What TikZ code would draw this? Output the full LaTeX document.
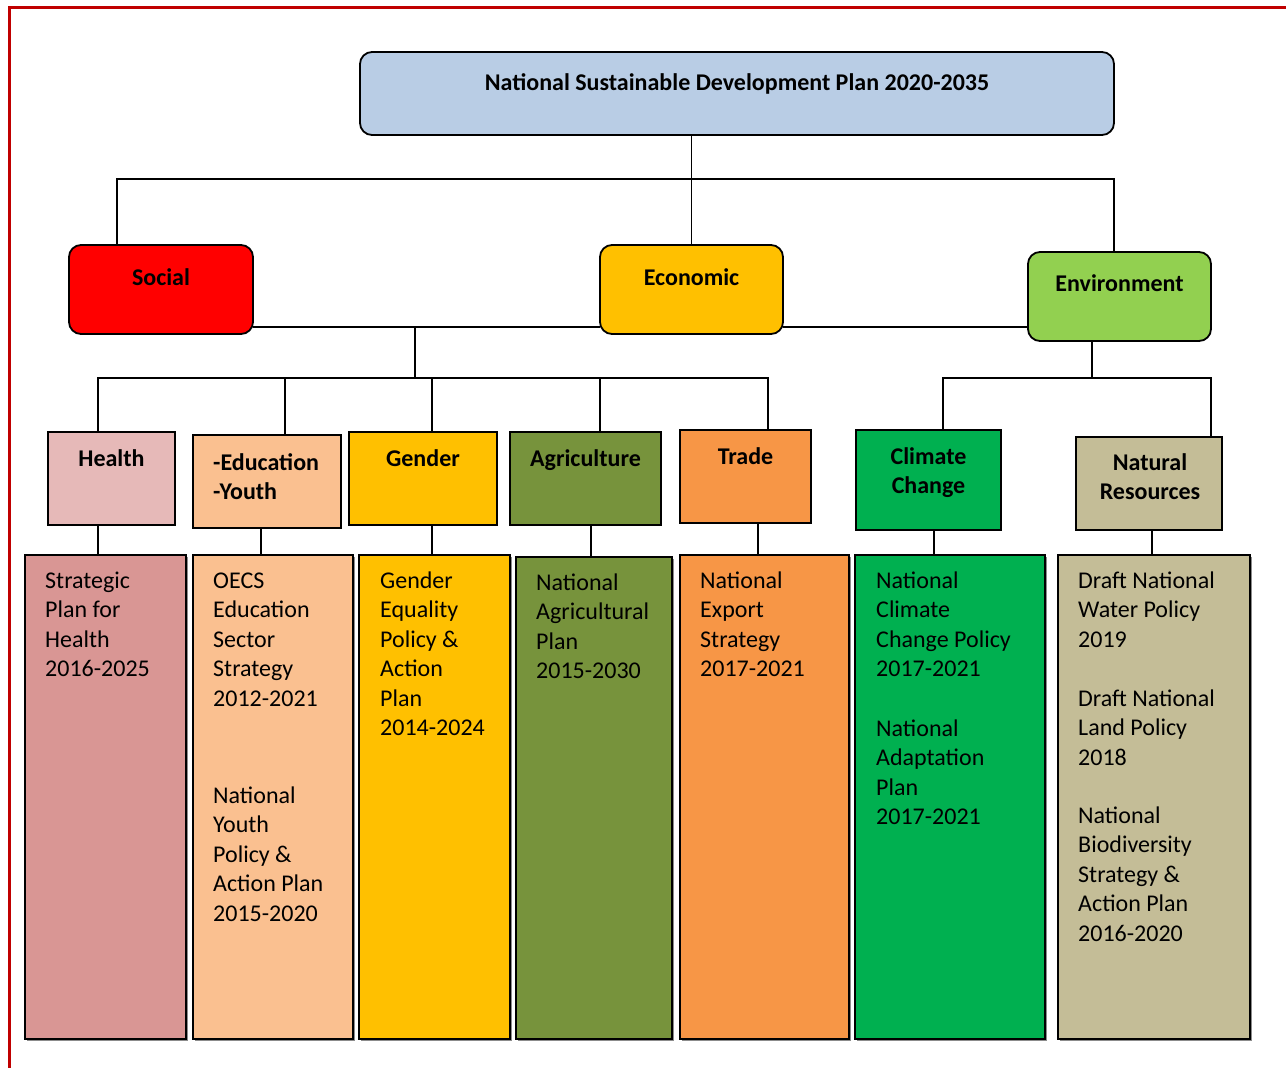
\documentclass[tikz,border=0pt]{standalone}
\usepackage{fontspec}
\setmainfont{Carlito}
\usetikzlibrary{shadows}
\definecolor{framered}{HTML}{C00000}
\definecolor{topblue}{HTML}{B9CDE5}
\definecolor{socred}{HTML}{FF0000}
\definecolor{ecoyel}{HTML}{FFC000}
\definecolor{envgreen}{HTML}{92D050}
\definecolor{healthc}{HTML}{E6B9B8}
\definecolor{healthb}{HTML}{D99694}
\definecolor{educ}{HTML}{FAC090}
\definecolor{agric}{HTML}{77933C}
\definecolor{tradec}{HTML}{F79646}
\definecolor{climc}{HTML}{00B050}
\definecolor{natc}{HTML}{C4BD97}
\newcommand\bodyfont{\fontsize{24}{29.5}\selectfont}
\newcommand\hdfont{\fontsize{24}{29}\selectfont\bfseries}
\newcommand\ml[1]{\begin{tabular}[t]{@{}l@{}}#1\end{tabular}}
\newcommand\mc[1]{\begin{tabular}[t]{@{}c@{}}#1\end{tabular}}
\newcommand\bx[6]{\node[#6, minimum width={#4-#2}, minimum height={#5-#3}] (#1) at ({(#2+#4)/2},{(#3+#5)/2}) {};}
\begin{document}
\begin{tikzpicture}[x=1pt,y=-1pt,
  box/.style={draw=black, line width=1.8pt, outer sep=0pt, inner sep=0pt},
  rbox/.style={box, rounded corners=12pt},
  lowbox/.style={box, drop shadow={shadow xshift=2pt, shadow yshift=-2pt, fill=black!45, opacity=1}},
  conn/.style={draw=black, line width=1.7pt},
  hd/.style={inner sep=0pt, anchor=base, font=\hdfont},
  hdl/.style={inner sep=0pt, anchor=base west, font=\hdfont},
  bt/.style={inner sep=0pt, anchor=base west, font=\bodyfont}]
\useasboundingbox (0,0) rectangle (1286,1068);
\fill[white] (0,0) rectangle (1286,1068);
\draw[draw=framered, line width=3.2pt] (9.5,1068) -- (9.5,7.5) -- (1286,7.5);

% top level
\bx{top}{360}{52}{1114}{135}{rbox, fill=topblue}
\node[hd] (ttop) at (737,90) {National Sustainable Development Plan 2020-2035};

% pillars
\bx{soc}{69}{245}{253}{334}{rbox, fill=socred}
\bx{eco}{600}{245}{783}{334}{rbox, fill=ecoyel}
\bx{env}{1028}{252}{1211}{341}{rbox, fill=envgreen}
\node[hd] (tsoc) at (161,285) {Social};
\node[hd] (teco) at (691.5,285) {Economic};
\node[hd] (tenv) at (1119.5,291) {Environment};

% themes
\bx{health}{48}{432}{175}{525}{box, fill=healthc}
\bx{edu}{193}{435}{341}{528}{box, fill=educ}
\bx{gender}{349}{432}{497}{525}{box, fill=ecoyel}
\bx{agri}{510}{432}{661}{525}{box, fill=agric}
\bx{trade}{680}{430}{811}{523}{box, fill=tradec}
\bx{clim}{856}{430}{1001}{530}{box, fill=climc}
\bx{nat}{1076}{437}{1222}{530}{box, fill=natc}
\node[hd] (thealth) at (111.5,466) {Health};
\node[hdl] (tedu) at (213,470) {\ml{-Education\\-Youth}};
\node[hd] (tgender) at (423,466) {Gender};
\node[hd] (tagri) at (585.5,466) {Agriculture};
\node[hd] (ttrade) at (745.5,464) {Trade};
\node[hd] (tclim) at (928.5,464) {\mc{Climate\\Change}};
\node[hd] (tnat) at (1150,470) {\mc{Natural\\Resources}};

% plans
\bx{b1}{25}{555}{186}{1039}{lowbox, fill=healthb}
\bx{b2}{193}{555}{353}{1039}{lowbox, fill=educ}
\bx{b3}{359}{555}{510}{1039}{lowbox, fill=ecoyel}
\bx{b4}{516}{557}{672}{1039}{lowbox, fill=agric}
\bx{b5}{680}{555}{849}{1039}{lowbox, fill=tradec}
\bx{b6}{855}{555}{1045}{1039}{lowbox, fill=climc}
\bx{b7}{1058}{555}{1250}{1039}{lowbox, fill=natc}

\node[bt] (p1) at (45,588) {\ml{Strategic\\Plan for\\Health\\2016-2025}};
\node[bt] (p2a) at (213,588) {\ml{OECS\\Education\\Sector\\Strategy\\2012-2021}};
\node[bt] (p2b) at (213,803) {\ml{National\\Youth\\Policy \&\\Action Plan\\2015-2020}};
\node[bt] (p3) at (380,588) {\ml{Gender\\Equality\\Policy \&\\Action\\Plan\\2014-2024}};
\node[bt] (p4) at (536,590) {\ml{National\\Agricultural\\Plan\\2015-2030}};
\node[bt] (p5) at (700,588) {\ml{National\\Export\\Strategy\\2017-2021}};
\node[bt] (p6a) at (876,588) {\ml{National\\Climate\\Change Policy\\2017-2021}};
\node[bt] (p6b) at (876,736) {\ml{National\\Adaptation\\Plan\\2017-2021}};
\node[bt] (p7a) at (1078,588) {\ml{Draft National\\Water Policy\\2019}};
\node[bt] (p7b) at (1078,706) {\ml{Draft National\\Land Policy\\2018}};
\node[bt] (p7c) at (1078,823) {\ml{National\\Biodiversity\\Strategy \&\\Action Plan\\2016-2020}};

% bus coordinates
\coordinate (busL) at (117,179);
\coordinate (busR) at (1114,179);
\coordinate (l2) at (415,327);
\coordinate (sb) at (415,378);
\coordinate (sbL) at (98,378);
\coordinate (sbR) at (768,378);
\coordinate (dedu) at (285,378);
\coordinate (dgen) at (432,378);
\coordinate (dagr) at (600,378);
\coordinate (eb) at (1092,378);
\coordinate (ebL) at (943,378);
\coordinate (ebR) at (1211,378);
\coordinate (k1) at (98,540);
\coordinate (k2) at (261,540);
\coordinate (k3) at (432,540);
\coordinate (k4) at (591,540);
\coordinate (k5) at (758,540);
\coordinate (k6) at (934,540);
\coordinate (k7) at (1152,540);

% connectors, level 1
\draw[conn] (top.south -| eco.north) -- (eco.north);
\draw[conn] (soc.north -| busL) -- (busL) -- (busR) -- (env.north -| busR);
% level 2
\draw[conn] (soc.east |- l2) -- (eco.west |- l2);
\draw[conn] (eco.east |- l2) -- (env.west |- l2);
\draw[conn] (l2) -- (sb);
\draw[conn] (health.north -| sbL) -- (sbL) -- (sbR) -- (trade.north -| sbR);
\draw[conn] (dedu) -- (edu.north -| dedu);
\draw[conn] (dgen) -- (gender.north -| dgen);
\draw[conn] (dagr) -- (agri.north -| dagr);
\draw[conn] (env.south -| eb) -- (eb);
\draw[conn] (clim.north -| ebL) -- (ebL) -- (ebR) -- (nat.north -| ebR);
% level 3
\draw[conn] (health.south -| k1) -- (b1.north -| k1);
\draw[conn] (edu.south -| k2) -- (b2.north -| k2);
\draw[conn] (gender.south -| k3) -- (b3.north -| k3);
\draw[conn] (agri.south -| k4) -- (b4.north -| k4);
\draw[conn] (trade.south -| k5) -- (b5.north -| k5);
\draw[conn] (clim.south -| k6) -- (b6.north -| k6);
\draw[conn] (nat.south -| k7) -- (b7.north -| k7);
\end{tikzpicture}
\end{document}
